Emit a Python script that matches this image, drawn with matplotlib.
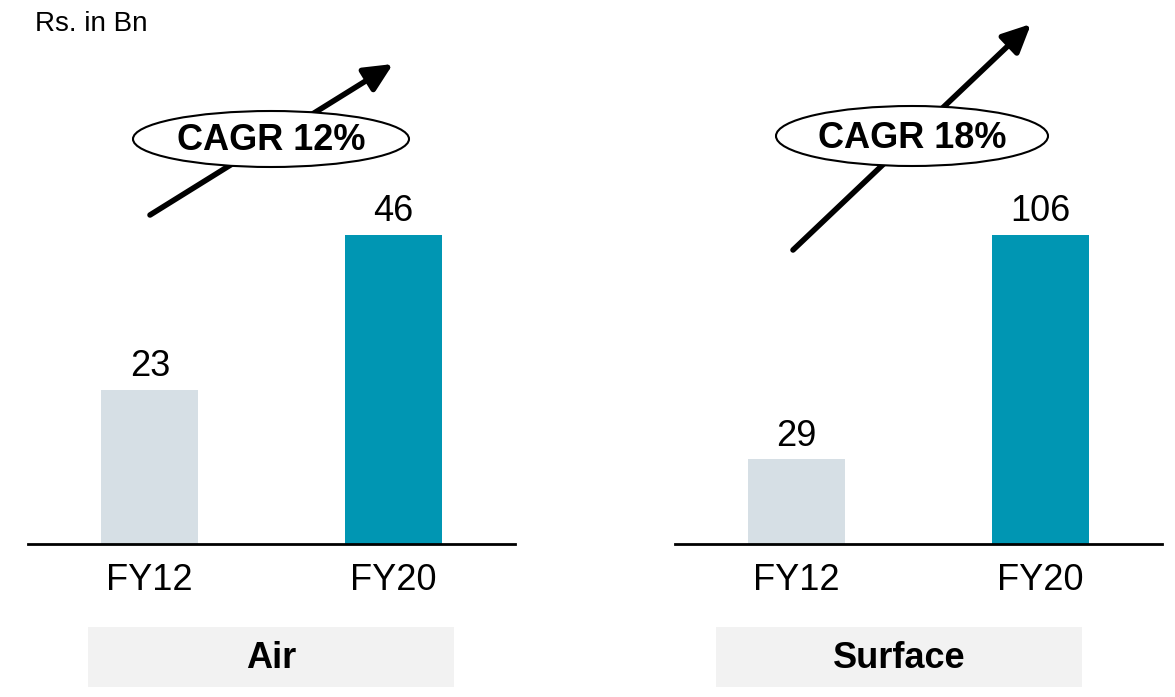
import matplotlib
matplotlib.use("Agg")
import matplotlib.pyplot as plt
from matplotlib.patches import Ellipse, FancyArrowPatch, Rectangle

plt.rcParams['font.family'] = ['Liberation Sans', 'DejaVu Sans']

# data
years = ["FY12", "FY20"]
air = [23, 46]
surface = [29, 106]
panels = ["Air", "Surface"]
cagr = ["CAGR 12%", "CAGR 18%"]

light = "#d6dfe5"
teal = "#0096b3"

W, H = 1175, 697
fig = plt.figure(figsize=(W / 100, H / 100), dpi=100)


def px(x, y):
    # image pixel -> figure fraction
    return x / W, 1 - y / H


base_y = 544
bar_top = 235
axes_left = [28, 675]
axes_w = 487
boxes = [(88, 454), (716, 1082)]
ellipses = [((271, 139), 276, 56), ((912, 136), 272, 60)]
arrows = [((150, 215), (393, 64)), ((793, 250), (1031, 24))]

for i, vals in enumerate([air, surface]):
    l, b = px(axes_left[i], base_y)
    ax = fig.add_axes([l, b, axes_w / W, base_y / H])
    bars = ax.bar(range(len(years)), vals, width=0.4, color=[light, teal])
    ax.bar_label(bars, labels=[str(v) for v in vals], padding=4, fontsize=26)
    ax.set_xlim(-0.5, 1.5)
    ax.set_ylim(0, max(vals) * base_y / (base_y - bar_top))
    ax.set_xticks(range(len(years)))
    ax.set_xticklabels(years, fontsize=26)
    ax.tick_params(axis='x', length=0, pad=14)
    ax.set_yticks([])
    for s in ["top", "right", "left"]:
        ax.spines[s].set_visible(False)
    ax.spines["bottom"].set_linewidth(2)
    ax.patch.set_visible(False)

    # panel caption box
    x0, x1 = boxes[i]
    bx, by = px(x0, 687)
    fig.patches.append(Rectangle((bx, by), (x1 - x0) / W, 60 / H,
                                 transform=fig.transFigure, facecolor="#f2f2f2",
                                 edgecolor="none", zorder=1))
    cx, cy = px((x0 + x1) / 2, 659)
    fig.text(cx, cy, panels[i], fontsize=26, fontweight="bold",
             ha="center", va="center", zorder=2)

    # growth arrow + CAGR ellipse
    (ax0, ay0), (ax1, ay1) = arrows[i]
    arr = FancyArrowPatch(px(ax0, ay0), px(ax1, ay1), transform=fig.transFigure,
                          arrowstyle="-|>,head_length=0.95,head_width=0.45",
                          mutation_scale=18, linewidth=4, color="black",
                          capstyle="round", shrinkA=0, shrinkB=0, zorder=3)
    fig.patches.append(arr)
    (ex, ey), ew, eh = ellipses[i]
    fig.patches.append(Ellipse(px(ex, ey), ew / W, eh / H, transform=fig.transFigure,
                               facecolor="white", edgecolor="black", linewidth=1.5,
                               zorder=4))
    tx, ty = px(ex, ey + 2)
    fig.text(tx, ty, cagr[i], fontsize=26, fontweight="bold",
             ha="center", va="center", zorder=5)

rx, ry = px(35, 24)
fig.text(rx, ry, "Rs. in Bn", fontsize=20, ha="left", va="center")

fig.savefig("out.png", dpi=100)
